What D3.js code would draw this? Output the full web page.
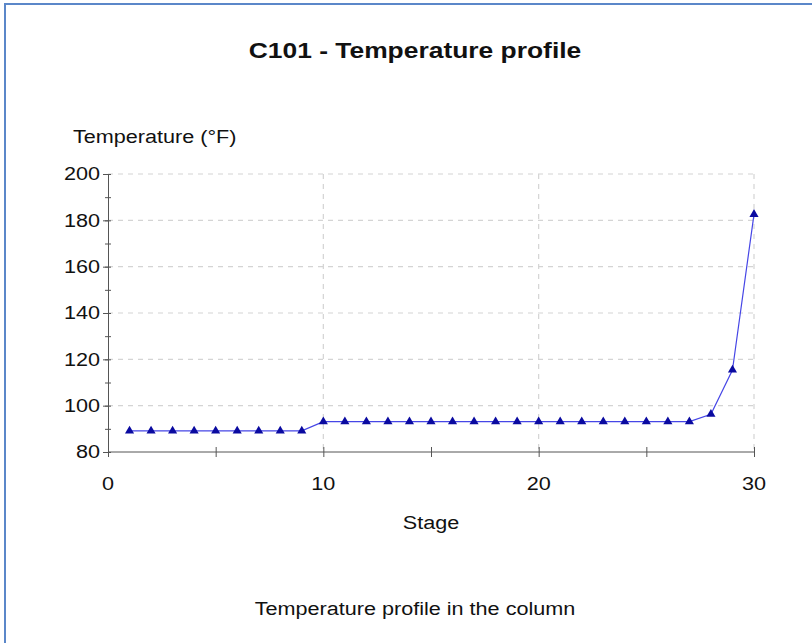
<!DOCTYPE html>
<html>
<head>
<meta charset="utf-8">
<script src="https://cdn.jsdelivr.net/npm/d3@7"></script>
<style>
    body { margin: 0; background: #fff; }
    text { font-family: "Liberation Sans", Arial, sans-serif; fill: #111; }
    .grid line { stroke: #d4d4d4; stroke-width: 1.2; stroke-dasharray: 5,5; }
    .axis path, .axis line { stroke: #555; }
</style>
</head>
<body>
<script>
(function () {

    // stage numbers and temperatures (deg F)
    var stages = [1, 2, 3, 4, 5, 6, 7, 8, 9, 10, 11, 12, 13, 14, 15, 16, 17, 18, 19, 20,
        21, 22, 23, 24, 25, 26, 27, 28, 29, 30];
    var temps = [89.1, 89.1, 89.1, 89.1, 89.1, 89.1, 89.1, 89.1, 89.1, 93.1,
        93.1, 93.1, 93.1, 93.1, 93.1, 93.1, 93.1, 93.1, 93.1, 93.1,
        93.1, 93.1, 93.1, 93.1, 93.1, 93.1, 93.1, 96.3, 115.4, 182.6];
    var xTicks = [0, 10, 20, 30];
    var yTicks = [80, 100, 120, 140, 160, 180, 200];

    var width = 812,
        height = 643,
        left = 108,
        right = 754,
        top = 174,
        bottom = 452,
        stretch = 1.2; // the picture is a bit wider than tall

    var svg = d3.select("body")
        .append("svg")
        .attr("width", width)
        .attr("height", height);

    // widen text the same way as the original picture
    function widen(sel) {
        sel.each(function () {
            var len = this.getComputedTextLength();
            d3.select(this)
                .attr("textLength", len * stretch)
                .attr("lengthAdjust", "spacingAndGlyphs");
        });
    }

    // frame of the window
    svg.append("path")
        .attr("d", "M5," + height + "V4H" + width)
        .attr("fill", "none")
        .attr("stroke", "#5b87c9")
        .attr("stroke-width", 2);

    var x = d3.scaleLinear().domain([0, 30]).range([left, right]);
    var y = d3.scaleLinear().domain([80, 200]).range([bottom, top]);

    // grid
    var grid = svg.append("g").attr("class", "grid");
    grid.selectAll(".hg")
        .data(yTicks.slice(1))
        .enter()
        .append("line")
        .attr("x1", left)
        .attr("x2", right)
        .attr("y1", function (d) { return y(d); })
        .attr("y2", function (d) { return y(d); });
    grid.selectAll(".vg")
        .data(xTicks.slice(1))
        .enter()
        .append("line")
        .attr("y1", top)
        .attr("y2", bottom)
        .attr("x1", function (d) { return x(d); })
        .attr("x2", function (d) { return x(d); });

    // y axis, minor ticks first then labelled ones
    svg.append("g")
        .attr("class", "axis")
        .attr("transform", "translate(" + left + ",0)")
        .call(d3.axisLeft(y).tickValues(d3.range(80, 201, 10)).tickSize(3).tickFormat(""))
        .call(function (g) { g.selectAll(".tick line").attr("x2", 3).attr("x1", -3); });

    var yAxis = svg.append("g")
        .attr("class", "axis")
        .attr("transform", "translate(" + left + ",0)")
        .call(d3.axisLeft(y).tickValues(yTicks).tickSize(5).tickPadding(3));
    yAxis.select(".domain").remove();
    yAxis.selectAll("text").style("font-size", "18px").call(widen);

    svg.append("g")
        .attr("class", "axis")
        .attr("transform", "translate(0," + bottom + ")")
        .call(d3.axisBottom(x).tickValues(d3.range(0, 31, 5)).tickSize(5).tickFormat(""))
        .call(function (g) {
            g.select(".domain").attr("d", "M" + left + ",0H" + right);
            g.selectAll(".tick line").attr("y1", -5).attr("y2", 5);
        });

    svg.append("g")
        .attr("transform", "translate(0," + bottom + ")")
        .selectAll("text")
        .data(xTicks)
        .enter()
        .append("text")
        .attr("x", function (d) { return x(d); })
        .attr("y", 38)
        .attr("text-anchor", "middle")
        .style("font-size", "18px")
        .text(function (d) { return d; })
        .call(widen);

    // profile line
    var line = d3.line()
        .x(function (d, i) { return x(stages[i]); })
        .y(function (d) { return y(d); });

    svg.append("path")
        .datum(temps)
        .attr("d", line)
        .attr("fill", "none")
        .attr("stroke", "#4646e6")
        .attr("stroke-width", 1.2);

    svg.selectAll(".pt")
        .data(temps)
        .enter()
        .append("path")
        .attr("class", "pt")
        .attr("d", d3.symbol().type(d3.symbolTriangle).size(36))
        .attr("transform", function (d, i) {
            return "translate(" + x(stages[i]) + "," + y(d) + ")";
        })
        .attr("fill", "#0a0aa0");

    // texts
    svg.append("text")
        .attr("x", 415)
        .attr("y", 58)
        .attr("text-anchor", "middle")
        .style("font-size", "22px")
        .style("font-weight", "bold")
        .text("C101 - Temperature profile")
        .call(widen);

    svg.append("text")
        .attr("x", 73)
        .attr("y", 143)
        .style("font-size", "18px")
        .text("Temperature (°F)")
        .call(widen);

    svg.append("text")
        .attr("x", (left + right) / 2)
        .attr("y", 529)
        .attr("text-anchor", "middle")
        .style("font-size", "18px")
        .text("Stage")
        .call(widen);

    svg.append("text")
        .attr("x", 415)
        .attr("y", 615)
        .attr("text-anchor", "middle")
        .style("font-size", "18px")
        .text("Temperature profile in the column")
        .call(widen);

})();
</script>
</body>
</html>
